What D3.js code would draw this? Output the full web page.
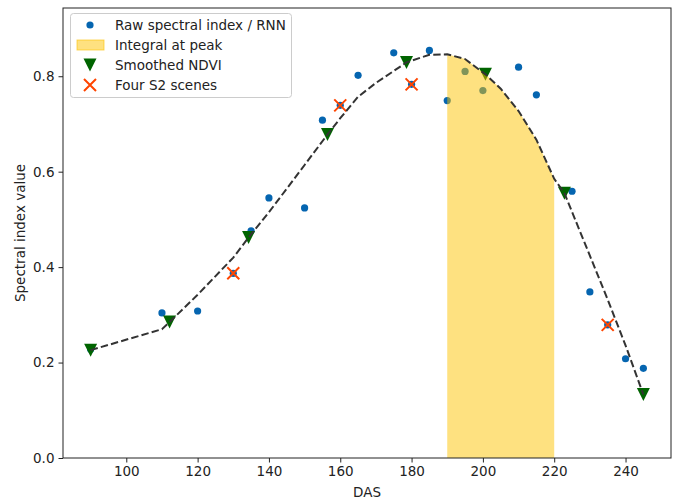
<!DOCTYPE html>
<html>
<head>
<meta charset="utf-8">
<script src="https://cdn.jsdelivr.net/npm/d3@7/dist/d3.min.js"></script>
<style>
  body { margin: 0; background: #fff; }
  svg { font-family: "DejaVu Sans", sans-serif; }
</style>
</head>
<body>
<svg id="chart" width="678" height="502"></svg>
<script>
// Raw spectral index / RNN
const rawDAS = [90,110,120,130,135,140,150,155,160,165,175,180,185,190,195,200,210,215,225,230,235,240,245];
const rawVal = [0.228,0.304,0.308,0.387,0.476,0.545,0.524,0.708,0.739,0.802,0.849,0.783,0.854,0.749,0.810,0.770,0.819,0.761,0.559,0.348,0.279,0.208,0.188];

// Smoothed curve (dashed line)
const curveDAS = [90,110,112.14,120,130,134.29,140,150,156.43,160,165,170,178.57,185,190,195,200.71,205,210,215,220,222.86,230,235,240,245];
const curveVal = [0.226,0.270,0.285,0.342,0.42,0.462,0.515,0.614,0.678,0.712,0.757,0.786,0.829,0.845,0.846,0.836,0.804,0.774,0.727,0.667,0.585,0.555,0.424,0.332,0.236,0.133];

// Smoothed NDVI markers
const smoothDAS = [90,112.14,134.29,156.43,178.57,200.71,222.86,245];
const smoothVal = [0.226,0.285,0.462,0.678,0.829,0.804,0.555,0.133];

// Four S2 scenes
const s2DAS = [130,160,180,235];
const s2Val = [0.387,0.739,0.783,0.279];

// Integral window
const peakRange = [190,220];

const xTicks = [100,120,140,160,180,200,220,240];
const yTicks = [0.0,0.2,0.4,0.6,0.8];

const legendLabels = ["Raw spectral index / RNN","Integral at peak","Smoothed NDVI","Four S2 scenes"];

const svg = d3.select("#chart");
const m = {left: 63, top: 8, right: 7, bottom: 44};
const W = 678 - m.left - m.right, H = 502 - m.top - m.bottom;
const g = svg.append("g").attr("transform", `translate(${m.left},${m.top})`);

const x = d3.scaleLinear().domain([82.25, 252.75]).range([0, W]);
const y = d3.scaleLinear().domain([0, 0.943]).range([H, 0]);

const blue = "#0565b0", green = "#006400", orange = "#ff4500", fillCol = "#fdc301";
const fs = 13.5;

// raw points
g.append("g").selectAll("circle").data(rawDAS.map((d,i)=>[d,rawVal[i]])).join("circle")
  .attr("cx", d=>x(d[0])).attr("cy", d=>y(d[1])).attr("r", 3.6).attr("fill", blue);

// smoothed markers
const tri = "M-6.5,-6.5L6.5,-6.5L0,6.5Z";
g.append("g").selectAll("path").data(smoothDAS.map((d,i)=>[d,smoothVal[i]])).join("path")
  .attr("d", tri).attr("transform", d=>`translate(${x(d[0])},${y(d[1])})`).attr("fill", green);

// S2 crosses
const cross = "M-6,-6L6,6M-6,6L6,-6";
g.append("g").selectAll("path").data(s2DAS.map((d,i)=>[d,s2Val[i]])).join("path")
  .attr("d", cross).attr("transform", d=>`translate(${x(d[0])},${y(d[1])})`)
  .attr("stroke", orange).attr("stroke-width", 2).attr("fill", "none");

// integral area
const curvePts = curveDAS.map((d,i)=>[d,curveVal[i]]);
const areaPts = curvePts.filter(p => p[0] >= peakRange[0] && p[0] <= peakRange[1]);
g.append("path").datum(areaPts)
  .attr("d", d3.area().x(d=>x(d[0])).y0(y(0)).y1(d=>y(d[1])))
  .attr("fill", fillCol).attr("fill-opacity", 0.5);

// dashed line
g.append("path").datum(curvePts)
  .attr("d", d3.line().x(d=>x(d[0])).y(d=>y(d[1])))
  .attr("fill", "none").attr("stroke", "#333").attr("stroke-width", 2)
  .attr("stroke-dasharray", "7.4,3.2");

// axes
const xAxis = g.append("g").attr("transform", `translate(0,${H})`)
  .call(d3.axisBottom(x).tickValues(xTicks).tickSize(4.5).tickPadding(4).tickFormat(d3.format("d")));
const yAxis = g.append("g")
  .call(d3.axisLeft(y).tickValues(yTicks).tickSize(4.5).tickPadding(4).tickFormat(d3.format(".1f")));
[xAxis, yAxis].forEach(a => {
  a.selectAll("text").attr("font-size", fs).attr("fill", "#222").attr("font-family", "DejaVu Sans");
  a.selectAll("line").attr("stroke", "#222");
  a.select(".domain").remove();
});
// frame
g.append("rect").attr("width", W).attr("height", H).attr("fill", "none").attr("stroke", "#222").attr("stroke-width", 1);

// axis labels
svg.append("text").attr("x", m.left + W/2).attr("y", 497).attr("text-anchor", "middle")
  .attr("font-size", fs).attr("fill", "#222").text("DAS");
svg.append("text").attr("transform", `translate(25,${m.top + H/2}) rotate(-90)`).attr("text-anchor", "middle")
  .attr("font-size", fs).attr("fill", "#222").text("Spectral index value");

// legend
const lg = svg.append("g");
lg.append("rect").attr("x", 70.5).attr("y", 13.5).attr("width", 221).attr("height", 84).attr("rx", 3)
  .attr("fill", "#fff").attr("fill-opacity", 0.8).attr("stroke", "#ccc");
const rowY = [25, 45, 65, 85];
lg.append("circle").attr("cx", 90).attr("cy", rowY[0]).attr("r", 3.6).attr("fill", blue);
lg.append("rect").attr("x", 77).attr("y", rowY[1]-5).attr("width", 27).attr("height", 10)
  .attr("fill", fillCol).attr("fill-opacity", 0.5).attr("stroke", fillCol).attr("stroke-opacity", 0.6);
lg.append("path").attr("d", tri).attr("transform", `translate(90,${rowY[2]})`).attr("fill", green);
lg.append("path").attr("d", cross).attr("transform", `translate(90,${rowY[3]})`)
  .attr("stroke", orange).attr("stroke-width", 2).attr("fill", "none");
lg.selectAll("text.l").data(legendLabels).join("text").attr("class", "l")
  .attr("x", 115).attr("y", (d,i)=>rowY[i] + 5).attr("font-size", fs).attr("fill", "#222").text(d=>d);
</script>
</body>
</html>
